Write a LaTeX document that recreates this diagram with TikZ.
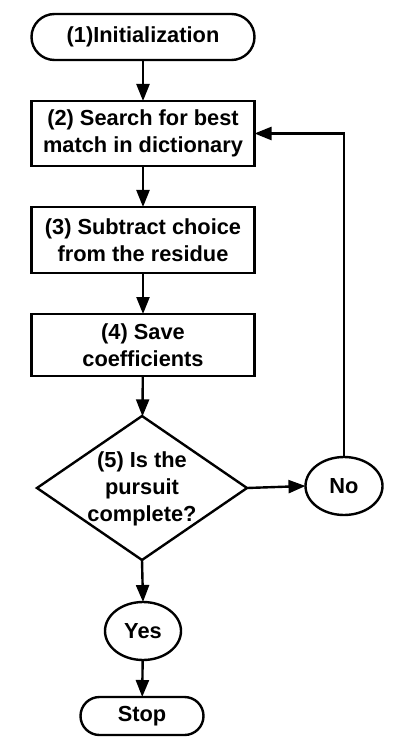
\documentclass[tikz,border=0pt]{standalone}
\usepackage{fontspec}
\setmainfont{Liberation Sans}
\usetikzlibrary{shapes.geometric,shapes.misc,arrows.meta}
\begin{document}
\begin{tikzpicture}[x=1pt,y=-1pt,
  every node/.style={font=\bfseries\fontsize{21.8}{27}\selectfont, align=center, line width=2.4pt, inner sep=0pt, outer sep=0pt},
  term/.style={draw, rounded rectangle},
  procbox/.style={draw, rectangle, minimum width=223pt},
  decision/.style={draw, diamond, minimum width=210pt, minimum height=144pt},
  oval/.style={draw, ellipse, minimum width=77pt, minimum height=58pt},
  conn/.style={line width=2.4pt, -{Triangle[width=13pt,length=17pt]}},
  plain/.style={line width=2.4pt}]
\useasboundingbox (0,0) rectangle (400,751);
\node[term, minimum width=223pt, minimum height=46pt] (init) at (143,37) {(1)Initialization};
\node[procbox, minimum height=65pt] (b2) at (143,133.5) {(2) Search for best\\match in dictionary};
\node[procbox, minimum height=66pt] (b3) at (143,240) {(3) Subtract choice\\from the residue};
\node[procbox, minimum height=62pt] (b4) at (143,345) {(4) Save\\coefficients};
\node[decision] (d) at (142,488) {};
\node (dt) at (142,489) {(5) Is the\\pursuit\\complete?};
\node[oval] (no) at (344,486) {No};
\node[oval, minimum width=76pt] (yes) at (143,631) {Yes};
\node[term, minimum width=123pt, minimum height=38pt] (stop) at (142,716) {Stop};
\draw[conn] (init) -- (b2);
\draw[conn] (b2) -- (b3);
\draw[conn] (b3) -- (b4);
\draw[conn] (b4) -- (d);
\draw[conn] (d.east) -- (no.west);
\draw[conn] (no.north) |- (b2.east);
\draw[conn] (d.south) -- (yes.north);
\draw[conn] (yes) -- (stop);
\end{tikzpicture}
\end{document}
